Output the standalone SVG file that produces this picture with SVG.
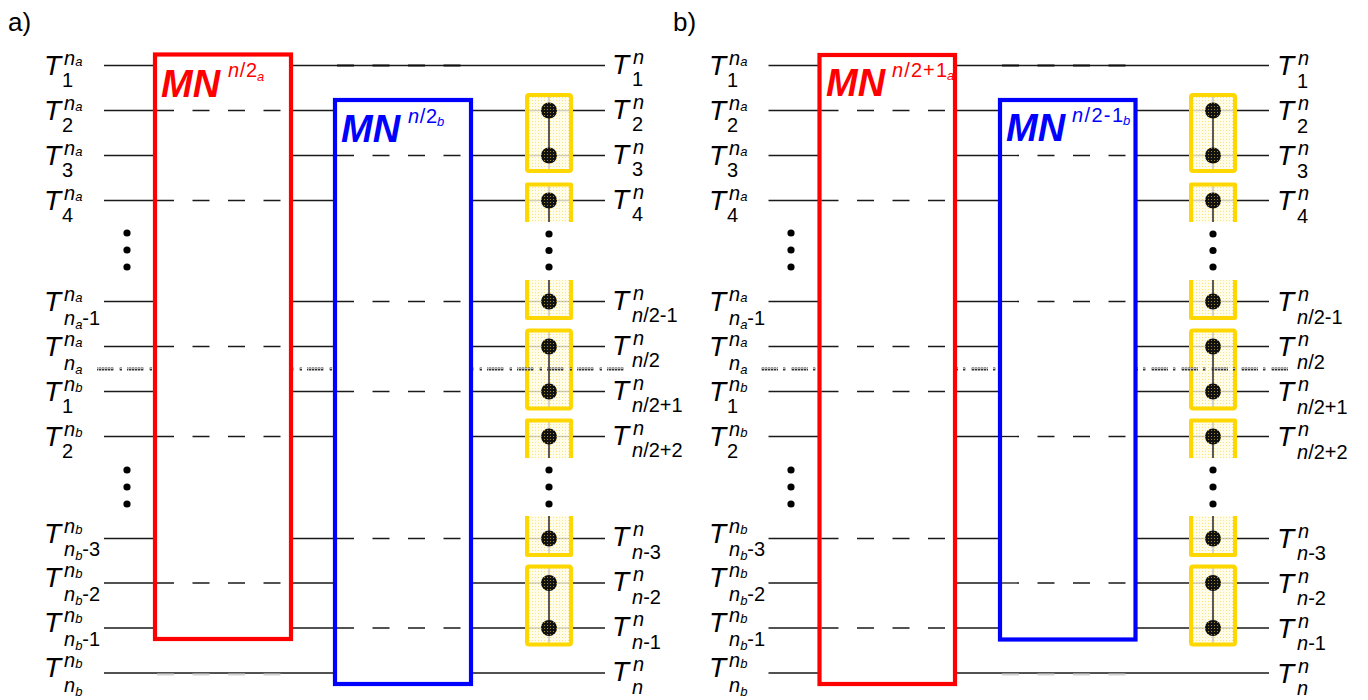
<svg xmlns="http://www.w3.org/2000/svg" width="1368" height="700" viewBox="0 0 1368 700">
<defs>
<pattern id="ydots" width="3" height="3" patternUnits="userSpaceOnUse"><rect width="3" height="3" fill="#fffbe4"/><rect x="1" y="1" width="1" height="1" fill="#f5dc6a"/></pattern>
<pattern id="bdots" width="3" height="3" patternUnits="userSpaceOnUse"><rect width="3" height="3" fill="#111"/><rect x="1" y="1" width="1" height="1" fill="#9a8614"/></pattern>
<pattern id="sep" width="3" height="3" patternUnits="userSpaceOnUse"><rect width="3" height="3" fill="#bbb"/><rect width="2" height="2" fill="#333"/></pattern>
<style>
text{font-family:"Liberation Sans",Arial,Helvetica,sans-serif;fill:#000}
.T{font-size:28px;font-style:italic}
.s{font-size:20px}
.i{font-style:italic}
.t{font-size:13px;font-style:italic}
.lab{font-size:26px}
.q{stroke:#1a1a1a;stroke-width:1.3;fill:none}
.d{stroke:#1a1a1a;stroke-width:1.3;stroke-dasharray:17 18.5;fill:none}
.ov{stroke:#111;stroke-width:2;stroke-dasharray:17 18.5;fill:none}
.fv{stroke:#d4d4d4;stroke-width:2;stroke-dasharray:17 18.5;fill:none}
.dot{stroke:url(#sep);stroke-width:3;stroke-dasharray:17 5 3 5;fill:none}
.yb{fill:url(#ydots);fill-opacity:0.8;stroke:none}
.ys{fill:none;stroke:#ffd700;stroke-width:4;stroke-linejoin:round}
.vf{stroke:#aaa;stroke-width:1}
.vc{stroke:#333;stroke-width:1.5}
.c{fill:url(#bdots)}
.red{fill:#fff;stroke:#ff0000;stroke-width:4.2}
.blue{fill:#fff;stroke:#0000ff;stroke-width:4.2}
.mn{font-size:38px;font-weight:bold;font-style:italic}
.rf{fill:#ff0000}
.bf{fill:#0000ff}
.bd{fill:#000}
</style>
<g id="ybox-set">
<rect class="yb" x="527" y="95" width="44" height="76"/>
<rect class="yb" x="527" y="184.5" width="44" height="37.5"/>
<rect class="yb" x="527" y="280" width="44" height="38"/>
<rect class="yb" x="527" y="330.5" width="44" height="78"/>
<rect class="yb" x="527" y="420.5" width="44" height="37.5"/>
<rect class="yb" x="527" y="516" width="44" height="39"/>
<rect class="yb" x="527" y="566.5" width="44" height="78"/>
<path class="vf" d="M549 95V171M549 184.5V222M549 280V318M549 330.5V408.5M549 420.5V458M549 516V555M549 566.5V644.5"/>
<rect class="ys" x="527" y="95" width="44" height="76" rx="2"/>
<path class="ys" d="M527 222V184.5H571V222"/>
<path class="ys" d="M527 280V318H571V280"/>
<rect class="ys" x="527" y="330.5" width="44" height="78" rx="2"/>
<path class="ys" d="M527 458V420.5H571V458"/>
<path class="ys" d="M527 516V555H571V516"/>
<rect class="ys" x="527" y="566.5" width="44" height="78" rx="2"/>
</g>
<g id="gate-set">
<path class="vc" d="M549 110.5V155.5M549 200.5V222M549 280V301.5M549 346.5V391.5M549 436.5V458M549 516V538.5M549 583V628"/>
<circle class="c" cx="549" cy="110.5" r="8"/>
<circle class="c" cx="549" cy="155.5" r="8"/>
<circle class="c" cx="549" cy="200.5" r="8"/>
<circle class="c" cx="549" cy="301.5" r="8"/>
<circle class="c" cx="549" cy="346.5" r="8"/>
<circle class="c" cx="549" cy="391.5" r="8"/>
<circle class="c" cx="549" cy="436.5" r="8"/>
<circle class="c" cx="549" cy="538.5" r="8"/>
<circle class="c" cx="549" cy="583" r="8"/>
<circle class="c" cx="549" cy="628" r="8"/>
<circle class="bd" cx="549" cy="234" r="3.6"/>
<circle class="bd" cx="549" cy="250.5" r="3.6"/>
<circle class="bd" cx="549" cy="267" r="3.6"/>
<circle class="bd" cx="549" cy="470" r="3.6"/>
<circle class="bd" cx="549" cy="487" r="3.6"/>
<circle class="bd" cx="549" cy="504" r="3.6"/>
<circle class="bd" cx="127" cy="233" r="3.6"/>
<circle class="bd" cx="127" cy="250" r="3.6"/>
<circle class="bd" cx="127" cy="267" r="3.6"/>
<circle class="bd" cx="127" cy="470" r="3.6"/>
<circle class="bd" cx="127" cy="487" r="3.6"/>
<circle class="bd" cx="127" cy="504" r="3.6"/>
</g>
<g id="left-labels">
<text class="T" x="44" y="75">T</text><text class="s i" x="64" y="65">n<tspan class="t" dy="1">a</tspan></text><text class="s" x="62" y="87">1</text>
<text class="T" x="44" y="120">T</text><text class="s i" x="64" y="110">n<tspan class="t" dy="1">a</tspan></text><text class="s" x="62" y="132">2</text>
<text class="T" x="44" y="165">T</text><text class="s i" x="64" y="155">n<tspan class="t" dy="1">a</tspan></text><text class="s" x="62" y="177">3</text>
<text class="T" x="44" y="210">T</text><text class="s i" x="64" y="200">n<tspan class="t" dy="1">a</tspan></text><text class="s" x="62" y="222">4</text>
<text class="T" x="44" y="311">T</text><text class="s i" x="64" y="301">n<tspan class="t" dy="1">a</tspan></text><text class="s" x="64" y="325"><tspan class="i">n</tspan><tspan class="t" dy="4">a</tspan><tspan dy="-4">-1</tspan></text>
<text class="T" x="44" y="355.5">T</text><text class="s i" x="64" y="345.5">n<tspan class="t" dy="1">a</tspan></text><text class="s" x="64" y="370"><tspan class="i">n</tspan><tspan class="t" dy="4">a</tspan></text>
<text class="T" x="44" y="401">T</text><text class="s i" x="64" y="391">n<tspan class="t" dy="1">b</tspan></text><text class="s" x="62" y="413">1</text>
<text class="T" x="44" y="445.5">T</text><text class="s i" x="64" y="435.5">n<tspan class="t" dy="1">b</tspan></text><text class="s" x="62" y="457.5">2</text>
<text class="T" x="44" y="542.5">T</text><text class="s i" x="64" y="532.5">n<tspan class="t" dy="1">b</tspan></text><text class="s" x="64" y="556"><tspan class="i">n</tspan><tspan class="t" dy="4">b</tspan><tspan dy="-4">-3</tspan></text>
<text class="T" x="44" y="587">T</text><text class="s i" x="64" y="577">n<tspan class="t" dy="1">b</tspan></text><text class="s" x="64" y="601"><tspan class="i">n</tspan><tspan class="t" dy="4">b</tspan><tspan dy="-4">-2</tspan></text>
<text class="T" x="44" y="632">T</text><text class="s i" x="64" y="622">n<tspan class="t" dy="1">b</tspan></text><text class="s" x="64" y="646"><tspan class="i">n</tspan><tspan class="t" dy="4">b</tspan><tspan dy="-4">-1</tspan></text>
<text class="T" x="44" y="677">T</text><text class="s i" x="64" y="667">n<tspan class="t" dy="1">b</tspan></text><text class="s" x="64" y="692"><tspan class="i">n</tspan><tspan class="t" dy="4">b</tspan></text>
</g>
<g id="right-labels">
<text class="T" x="612" y="73.5">T</text><text class="s i" x="633" y="63.5">n</text><text class="s" x="632" y="86">1</text>
<text class="T" x="612" y="118.5">T</text><text class="s i" x="633" y="108.5">n</text><text class="s" x="632" y="131">2</text>
<text class="T" x="612" y="163.5">T</text><text class="s i" x="633" y="153.5">n</text><text class="s" x="632" y="176">3</text>
<text class="T" x="612" y="208.5">T</text><text class="s i" x="633" y="198.5">n</text><text class="s" x="632" y="221">4</text>
<text class="T" x="612" y="309.5">T</text><text class="s i" x="633" y="299.5">n</text><text class="s" x="632" y="322"><tspan class="i">n</tspan>/2-1</text>
<text class="T" x="612" y="354.5">T</text><text class="s i" x="633" y="344.5">n</text><text class="s" x="632" y="367"><tspan class="i">n</tspan>/2</text>
<text class="T" x="612" y="399.5">T</text><text class="s i" x="633" y="389.5">n</text><text class="s" x="632" y="412"><tspan class="i">n</tspan>/2+1</text>
<text class="T" x="612" y="444.5">T</text><text class="s i" x="633" y="434.5">n</text><text class="s" x="632" y="457"><tspan class="i">n</tspan>/2+2</text>
<text class="T" x="612" y="546">T</text><text class="s i" x="633" y="536">n</text><text class="s" x="632" y="558.5"><tspan class="i">n</tspan>-3</text>
<text class="T" x="612" y="591">T</text><text class="s i" x="633" y="581">n</text><text class="s" x="632" y="603.5"><tspan class="i">n</tspan>-2</text>
<text class="T" x="612" y="636">T</text><text class="s i" x="633" y="626">n</text><text class="s" x="632" y="648.5"><tspan class="i">n</tspan>-1</text>
<text class="T" x="612" y="681">T</text><text class="s i" x="633" y="671">n</text><text class="s" x="632" y="693.5"><tspan class="i">n</tspan></text>
</g>
</defs>

<g id="connectors">
<path class="q" d="M104 65.5H605M104 110.5H605M104 155.5H605M104 200.5H605M104 301.5H605M104 346.5H605M104 391.5H605M104 436.5H605M104 538.5H605M104 583H605M104 628H605M104 673H605"/>
<path class="q" d="M768.5 65.5H1269M768.5 110.5H1269M768.5 155.5H1269M768.5 200.5H1269M768.5 301.5H1269M768.5 346.5H1269M768.5 391.5H1269M768.5 436.5H1269M768.5 538.5H1269M768.5 583H1269M768.5 628H1269M768.5 673H1269"/>
</g>

<g id="gates-a"><use href="#ybox-set"/></g>
<g id="gates-b" transform="translate(664 0)"><use href="#ybox-set"/></g>

<g id="separator">
<path class="dot" d="M97 369H624"/>
<path class="dot" d="M761 369H1288"/>
</g>

<g id="mn-a-red">
<rect class="red" x="155" y="54.5" width="136" height="584.5"/>
<path class="d" d="M157 110.5H289"/>
<path class="d" d="M157 200.5H289"/>
<path class="d" d="M157 346.5H289"/>
<path class="d" d="M157 436.5H289"/>
<path class="d" d="M157 583H289"/>
<path class="fv" d="M157 674.5H289"/>
<text class="mn rf" x="161" y="97">MN</text>
<text class="s rf" x="228" y="77" textLength="29"><tspan class="i">n</tspan>/2</text>
<text class="t rf" x="257" y="81">a</text>
</g>
<g id="mn-a-blue">
<rect class="blue" x="335" y="100" width="136" height="584"/>
<path class="d" d="M337 155.5H469"/>
<path class="d" d="M337 301.5H469"/>
<path class="d" d="M337 391.5H469"/>
<path class="d" d="M337 538.5H469"/>
<path class="d" d="M337 628H469"/>
<path class="ov" d="M337 65.5H469"/>
<text class="mn bf" x="341" y="142">MN</text>
<text class="s bf" x="408" y="123" textLength="29"><tspan class="i">n</tspan>/2</text>
<text class="t bf" x="437" y="126">b</text>
</g>
<g id="mn-b-red">
<rect class="red" x="819.5" y="55" width="135.5" height="629"/>
<path class="d" d="M821.5 110.5H953"/>
<path class="d" d="M821.5 200.5H953"/>
<path class="d" d="M821.5 346.5H953"/>
<path class="d" d="M821.5 391.5H953"/>
<path class="d" d="M821.5 538.5H953"/>
<path class="d" d="M821.5 628H953"/>
<text class="mn rf" x="826" y="95.5">MN</text>
<text class="s rf" x="892" y="77" textLength="55"><tspan class="i">n</tspan>/2+1</text>
<text class="t rf" x="947" y="80">a</text>
</g>
<g id="mn-b-blue">
<rect class="blue" x="1000" y="100" width="135.5" height="539.5"/>
<path class="d" d="M1002 155.5H1133.5"/>
<path class="d" d="M1002 301.5H1133.5"/>
<path class="d" d="M1002 436.5H1133.5"/>
<path class="d" d="M1002 583H1133.5"/>
<path class="ov" d="M1002 65.5H1133.5"/>
<path class="fv" d="M1002 674.5H1133.5"/>
<text class="mn bf" x="1006" y="140.5">MN</text>
<text class="s bf" x="1072" y="122" textLength="51"><tspan class="i">n</tspan>/2-1</text>
<text class="t bf" x="1123" y="125">b</text>
</g>

<g id="controls-a"><use href="#gate-set"/></g>
<g id="controls-b" transform="translate(664 0)"><use href="#gate-set"/></g>

<g id="labels-a-left"><use href="#left-labels"/></g>
<g id="labels-a-right"><use href="#right-labels"/></g>
<g id="labels-b-left" transform="translate(665 0)"><use href="#left-labels"/></g>
<g id="labels-b-right" transform="translate(665 1.5)"><use href="#right-labels"/></g>

<g id="panel-labels">
<text class="lab" x="8" y="31">a)</text>
<text class="lab" x="673" y="31">b)</text>
</g>
</svg>
